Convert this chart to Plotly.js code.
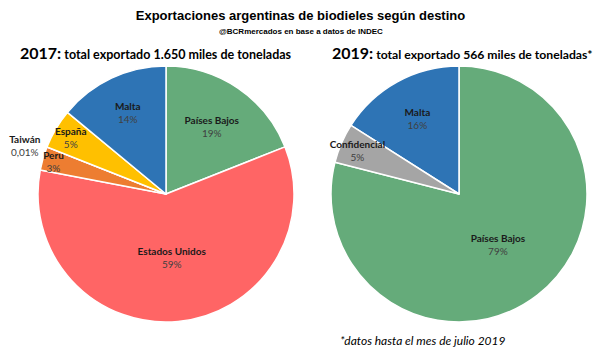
<!DOCTYPE html>
<html><head><meta charset="utf-8">
<script src="https://cdn.plot.ly/plotly-3.0.1.min.js"></script>
<style>html,body{margin:0;padding:0;background:#fff}#chart{width:601px;height:350px}</style>
</head><body><div id="chart"></div>
<script>
// 2017 (clockwise from 12 o'clock)
const labels2017 = ["Países Bajos", "Estados Unidos", "Perú", "Taiwán", "España", "Malta"];
const values2017 = [19, 59, 3, 0.01, 5, 14];
const pctText2017 = ["19%", "59%", "3%", "0,01%", "5%", "14%"];
const colors2017 = ["#65AB7A", "#FF6565", "#ED7D31", "#A5A5A5", "#FFC000", "#2E74B5"];
const pos2017 = ["inside", "inside", "inside", "outside", "inside", "inside"];
// 2019 (first slice clockwise from 12 o'clock, the rest counter-clockwise from 12)
const labels2019 = ["Países Bajos", "Malta", "Confidencial"];
const values2019 = [79, 16, 5];
const pctText2019 = ["79%", "16%", "5%"];
const colors2019 = ["#65AB7A", "#2E74B5", "#A5A5A5"];

const font = "Lato, 'Open Sans', sans-serif";
function mkText(l, p){ return l.map((s,i)=>"<b>"+s+"</b><br><span style='color:#404040'>"+p[i]+"</span>"); }

const traces = [
 {type:"pie", labels:labels2017, values:values2017, text:mkText(labels2017,pctText2017),
  textinfo:"text", sort:false, direction:"clockwise", rotation:0,
  marker:{colors:colors2017, line:{color:"#fff", width:1.5}},
  textposition:pos2017, insidetextorientation:"horizontal",
  textfont:{family:font, size:10, color:"#1a1a1a"},
  domain:{x:[38/601, 294/601], y:[28/350, 284/350]}, showlegend:false, hoverinfo:"none"},
 {type:"pie", labels:labels2019, values:values2019, text:mkText(labels2019,pctText2019),
  textinfo:"text", sort:false, direction:"counterclockwise", rotation:0,
  marker:{colors:colors2019, line:{color:"#fff", width:1.5}},
  textposition:"inside", insidetextorientation:"horizontal",
  textfont:{family:font, size:10, color:"#1a1a1a"},
  domain:{x:[331/601, 587/601], y:[28/350, 284/350]}, showlegend:false, hoverinfo:"none"}
];

const layout = {
 width:601, height:350, margin:{l:0,r:0,t:0,b:0}, paper_bgcolor:"#fff",
 uniformtext:{mode:"show", minsize:10},
 title:{text:"<b>Exportaciones argentinas de biodieles según destino</b>", x:0.5, xanchor:"center", y:1-15/350, yanchor:"middle",
   font:{family:"'Liberation Sans Narrow', sans-serif", size:13, color:"#000"}},
 annotations:[
  {text:"<b>@BCRmercados en base a datos de INDEC</b>", x:0.5, y:1-32/350, xref:"paper", yref:"paper", xanchor:"center", yanchor:"middle", showarrow:false,
   font:{family:"'Liberation Sans Narrow', sans-serif", size:8, color:"#000"}},
  {text:"<b><span style='font-size:16px'>2017:</span> total exportado 1.650 miles de toneladas</b>", x:18/601, y:1-52/350, xref:"paper", yref:"paper", xanchor:"left", yanchor:"middle", showarrow:false,
   font:{family:font, size:12.5, color:"#000"}},
  {text:"<b><span style='font-size:16px'>2019:</span> total exportado 566 miles de toneladas*</b>", x:330/601, y:1-52/350, xref:"paper", yref:"paper", xanchor:"left", yanchor:"middle", showarrow:false,
   font:{family:font, size:12.2, color:"#000"}},
  {text:"<i>*datos hasta el mes de julio 2019</i>", x:338/601, y:1-340/350, xref:"paper", yref:"paper", xanchor:"left", yanchor:"middle", showarrow:false,
   font:{family:font, size:12, color:"#000"}}
 ]
};
Plotly.newPlot("chart", traces, layout, {staticPlot:true});
</script></body></html>
